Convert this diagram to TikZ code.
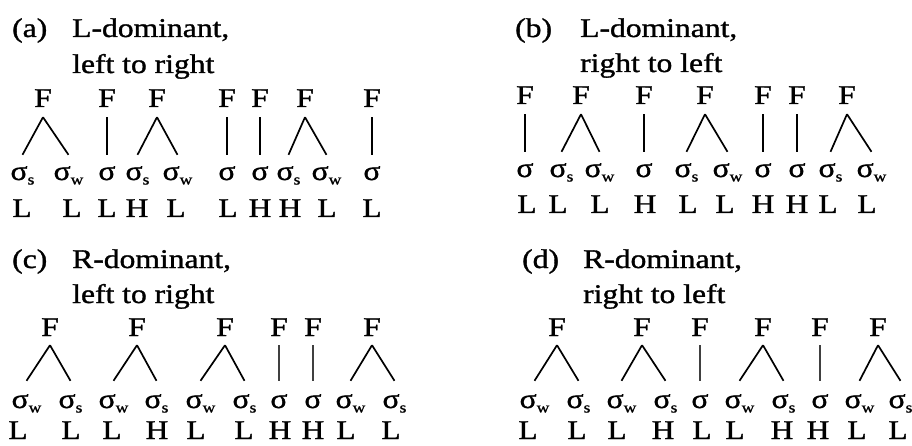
\documentclass[tikz,border=0pt]{standalone}
\usepackage{fontspec}
\setmainfont[FakeStretch=1.17,FakeBold=1.2]{Liberation Serif}
\newcommand\subsc[1]{\raisebox{-4.5pt}{\fontsize{15}{15}\selectfont #1}}
\newcommand\sg[1]{σ\if#1p\else\subsc{#1}\fi}
\tikzset{
  txt/.style={inner sep=0pt, anchor=base, font=\fontsize{27}{27}\selectfont},
  head/.style={txt, anchor=base west},
  fnode/.style={txt, text height=17pt, text depth=0pt, inner ysep=10pt},
  snode/.style={txt, text height=12pt, text depth=0pt, inner ysep=13pt},
  leg/.style={line width=1.7pt},
  thinleg/.style={line width=1.1pt, black!75},
}
\begin{document}
\begin{tikzpicture}[x=1pt,y=-1pt]
\useasboundingbox[fill=white] (0,0) rectangle (912,446);

% ---------- (a) ----------
\node[head] (ha1) at (12,37) {(a)};
\node[head] (ha2) at (72,37) {L-dominant,};
\node[head] (ha3) at (72,73) {left to right};
\foreach \i/\x in {1/43,2/107,3/157,4/227,5/260,6/305,7/372}
  \node[fnode] (aF\i) at (\x,107) {F};
\foreach \i/\x/\k/\o in {1/19/s/3.5,2/62/w/6.5,3/107/p/0,4/134/s/3.5,5/171/w/6.5,6/227/p/0,7/260/p/0,8/285/s/3.5,9/320/w/6.5,10/372/p/0}
  \node[snode, xshift=\o pt] (aS\i) at (\x,180) {\sg{\k}};
\foreach \i/\x/\t in {1/22/L,2/72/L,3/107/L,4/137/H,5/176/L,6/228/L,7/260/H,8/290/H,9/327/L,10/372/L}
  \node[txt] (aL\i) at (\x,217) {\t};
\foreach \f/\s in {1/1,1/2,2/3,3/4,3/5,4/6,5/7,6/8,6/9,7/10}
  \draw[leg] (aF\f.south) -- (aS\s.north);

% ---------- (b) ----------
\node[head] (hb1) at (515,37) {(b)};
\node[head] (hb2) at (580,37) {L-dominant,};
\node[head] (hb3) at (580,72) {right to left};
\foreach \i/\x in {1/525,2/581,3/644,4/705,5/763,6/797,7/847}
  \node[fnode] (bF\i) at (\x,104) {F};
\foreach \i/\x/\k/\o in {1/525/p/0,2/558/s/3.5,3/593/w/6.5,4/644/p/0,5/683/s/3.5,6/721/w/6.5,7/763/p/0,8/797/p/0,9/827/s/3.5,10/865/w/6.5}
  \node[snode, xshift=\o pt] (bS\i) at (\x,177) {\sg{\k}};
\foreach \i/\x/\t in {1/527/L,2/558/L,3/600/L,4/645/H,5/688/L,6/725/L,7/763/H,8/797/H,9/828/L,10/867/L}
  \node[txt] (bL\i) at (\x,213) {\t};
\foreach \f/\s in {1/1,2/2,2/3,3/4,4/5,4/6,5/7,6/8,7/9,7/10}
  \draw[leg] (bF\f.south) -- (bS\s.north);

% ---------- (c) ----------
\node[head] (hc1) at (12,268) {(c)};
\node[head] (hc2) at (72,268) {R-dominant,};
\node[head] (hc3) at (72,303) {left to right};
\begin{scope}[fnode/.append style={inner ysep=9pt}, snode/.append style={inner ysep=15pt}]
\foreach \i/\x in {1/50,2/137,3/225,4/279,5/313,6/372}
  \node[fnode] (cF\i) at (\x,336) {F};
\foreach \i/\x/\k/\o in {1/20/w/6.5,2/67/s/3.5,3/107/w/6.5,4/153/s/3.5,5/194/w/6.5,6/241/s/3.5,7/279/p/0,8/313/p/0,9/344/w/6.5,10/391/s/3.5}
  \node[snode, xshift=\o pt] (cS\i) at (\x,408) {\sg{\k}};
\end{scope}
\foreach \i/\x/\t in {1/18/L,2/71/L,3/112/L,4/157/H,5/196/L,6/244/L,7/280/H,8/313/H,9/346/L,10/391/L}
  \node[txt] (cL\i) at (\x,439) {\t};
\foreach \f/\s in {1/1,1/2,2/3,2/4,3/5,3/6,6/9,6/10}
  \draw[leg] (cF\f.south) -- (cS\s.north);
\foreach \f/\s in {4/7,5/8}
  \draw[thinleg] (cF\f.south) -- (cS\s.north);

% ---------- (d) ----------
\node[head] (hd1) at (522,268) {(d)};
\node[head] (hd2) at (583,268) {R-dominant,};
\node[head] (hd3) at (583,303) {right to left};
\begin{scope}[fnode/.append style={inner ysep=9pt}, snode/.append style={inner ysep=15pt}]
\foreach \i/\x in {1/557,2/642,3/700,4/763,5/820,6/878}
  \node[fnode] (dF\i) at (\x,336) {F};
\foreach \i/\x/\k/\o in {1/528/w/6.5,2/575/s/3.5,3/615/w/6.5,4/662/s/3.5,5/700/p/0,6/733/w/6.5,7/780/s/3.5,8/820/p/0,9/853/w/6.5,10/897/s/3.5}
  \node[snode, xshift=\o pt] (dS\i) at (\x,408) {\sg{\k}};
\end{scope}
\foreach \i/\x/\t in {1/528/L,2/577/L,3/617/L,4/663/H,5/702/L,6/735/L,7/782/H,8/818/H,9/857/L,10/898/L}
  \node[txt] (dL\i) at (\x,439) {\t};
\foreach \f/\s in {1/1,1/2,2/3,2/4,4/6,4/7,6/9,6/10}
  \draw[leg] (dF\f.south) -- (dS\s.north);
\foreach \f/\s in {3/5,5/8}
  \draw[thinleg] (dF\f.south) -- (dS\s.north);
\end{tikzpicture}
\end{document}
